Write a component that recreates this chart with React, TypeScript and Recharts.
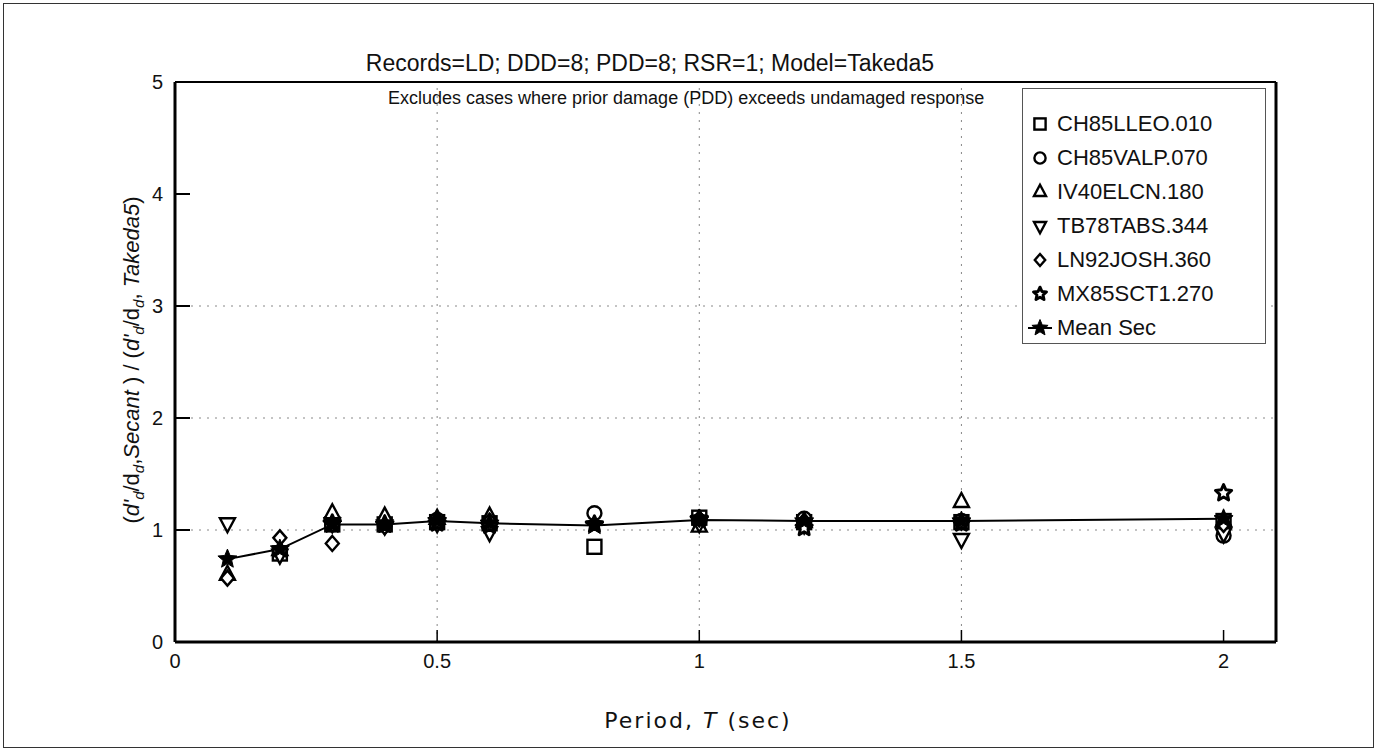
import React from 'react'
import {
  ComposedChart,
  Scatter,
  Line,
  XAxis,
  YAxis,
  ReferenceLine,
  Label,
} from 'recharts'

// periods (sec)
const periods = [0.1, 0.2, 0.3, 0.4, 0.5, 0.6, 0.8, 1.0, 1.2, 1.5, 2.0]

// ratio values per record, null = excluded case
const ch85lleo = [null, 0.79, 1.05, 1.05, 1.07, 1.06, 0.85, 1.11, 1.07, 1.07, 1.08]
const ch85valp = [null, null, 1.05, 1.06, 1.09, 1.07, 1.15, 1.08, 1.1, 1.08, 0.95]
const iv40elcn = [0.6, 0.82, 1.15, 1.12, 1.1, 1.12, null, 1.03, 1.07, 1.25, 1.08]
const tb78tabs = [1.06, 0.78, 1.06, 1.04, 1.06, 0.98, null, 1.06, 1.05, 0.92, 0.97]
const ln92josh = [0.57, 0.93, 0.88, 1.03, 1.08, 1.08, null, 1.1, 1.08, 1.07, 1.05]
const mx85sct1 = [null, null, 1.06, 1.05, 1.06, 1.04, 1.05, 1.1, 1.02, 1.06, 1.33]
const meanSec = [0.74, 0.83, 1.05, 1.05, 1.08, 1.06, 1.04, 1.09, 1.08, 1.08, 1.1]

const xTicks = [0, 0.5, 1, 1.5, 2]
const yTicks = [0, 1, 2, 3, 4, 5]
const xGrid = [0.5, 1, 1.5]
const yGrid = [1, 2, 3]

const FONT = '"Liberation Sans", Arial, Helvetica, sans-serif'
const WIDE = '"DejaVu Sans", Verdana, sans-serif'

const toPoints = (vals: (number | null)[]) =>
  periods
    .map((T, i) => ({ T, v: vals[i] }))
    .filter((d) => d.v !== null)

type Kind = 'square' | 'circle' | 'triUp' | 'triDown' | 'diamond' | 'star' | 'starFilled'

const starPath = (cx: number, cy: number, ro: number, ri: number) => {
  let d = ''
  for (let i = 0; i < 10; i++) {
    const r = i % 2 === 0 ? ro : ri
    const a = -Math.PI / 2 + (i * Math.PI) / 5
    d += `${i === 0 ? 'M' : 'L'}${cx + r * Math.cos(a)},${cy + r * Math.sin(a)}`
  }
  return d + 'Z'
}

const Marker = ({ cx, cy, kind, s = 1 }: { cx: number; cy: number; kind: Kind; s?: number }) => {
  const st = { stroke: '#000', strokeWidth: 2.4, fill: '#fff' }
  if (cx == null || cy == null) return null
  switch (kind) {
    case 'square':
      return <rect x={cx - 7 * s} y={cy - 7 * s} width={14 * s} height={14 * s} {...st} />
    case 'circle':
      return <circle cx={cx} cy={cy} r={7 * s} {...st} />
    case 'triUp':
      return <polygon points={`${cx},${cy - 9 * s} ${cx + 7.5 * s},${cy + 5 * s} ${cx - 7.5 * s},${cy + 5 * s}`} {...st} />
    case 'triDown':
      return <polygon points={`${cx},${cy + 9 * s} ${cx + 7.5 * s},${cy - 5 * s} ${cx - 7.5 * s},${cy - 5 * s}`} {...st} />
    case 'diamond':
      return <polygon points={`${cx},${cy - 7.5 * s} ${cx + 6.5 * s},${cy} ${cx},${cy + 7.5 * s} ${cx - 6.5 * s},${cy}`} {...st} />
    case 'star':
      return <path d={starPath(cx, cy, 8.5 * s, 4 * s)} stroke="#000" strokeWidth={3} strokeLinejoin="round" fill="#fff" />
    case 'starFilled':
      return <path d={starPath(cx, cy, 10 * s, 4.5 * s)} stroke="#000" strokeWidth={1} fill="#000" />
  }
  return null
}

const records: { name: string; kind: Kind; vals: (number | null)[] }[] = [
  { name: 'CH85LLEO.010', kind: 'square', vals: ch85lleo },
  { name: 'CH85VALP.070', kind: 'circle', vals: ch85valp },
  { name: 'IV40ELCN.180', kind: 'triUp', vals: iv40elcn },
  { name: 'TB78TABS.344', kind: 'triDown', vals: tb78tabs },
  { name: 'LN92JOSH.360', kind: 'diamond', vals: ln92josh },
  { name: 'MX85SCT1.270', kind: 'star', vals: mx85sct1 },
]

const YTick = (props: any) => {
  const { x, y, payload } = props
  return (
    <g>
      <text x={x} y={y} dy={7} textAnchor="end" fontSize={20} fontFamily={FONT} fill="#111">
        {payload.value}
      </text>
      {payload.value > 0 && payload.value < 5 && (
        <line x1={x + 12} x2={x + 27} y1={y} y2={y} stroke="#000" strokeWidth={2} />
      )}
    </g>
  )
}

const XTick = (props: any) => {
  const { x, y, payload } = props
  return (
    <g>
      <text x={x} y={y} dy={16} textAnchor="middle" fontSize={20} fontFamily={FONT} fill="#111">
        {payload.value}
      </text>
      {payload.value > 0 && (
        <line x1={x} x2={x} y1={y - 10} y2={y - 22} stroke="#000" strokeWidth={1.5} />
      )}
    </g>
  )
}

const XLabel = (props: any) => {
  const vb = props.viewBox
  return (
    <text
      x={vb.x + 523}
      y={vb.y + 86}
      textAnchor="middle"
      fontSize={22}
      letterSpacing={2}
      fontFamily={WIDE}
      fill="#111"
    >
      Period, <tspan fontStyle="italic">T</tspan> (sec)
    </text>
  )
}

const YLabel = (props: any) => {
  const vb = props.viewBox
  const cx = vb.x + 44
  const cy = 360
  const sub = { fontSize: 15, dy: 5 }
  return (
    <text
      x={cx}
      y={cy}
      transform={`rotate(-90 ${cx} ${cy})`}
      textAnchor="middle"
      fontSize={22}
      fontFamily={FONT}
      fill="#111"
    >
      <tspan>(</tspan>
      <tspan fontStyle="italic">d'</tspan>
      <tspan fontStyle="italic" {...sub}>d</tspan>
      <tspan dy={-5}>/d</tspan>
      <tspan fontStyle="italic" {...sub}>d</tspan>
      <tspan dy={-5}>,</tspan>
      <tspan fontStyle="italic">Secant</tspan>
      <tspan> ) / (</tspan>
      <tspan fontStyle="italic">d'</tspan>
      <tspan fontStyle="italic" {...sub}>d</tspan>
      <tspan dy={-5}>/d</tspan>
      <tspan fontStyle="italic" {...sub}>d</tspan>
      <tspan dy={-5}>, </tspan>
      <tspan fontStyle="italic">Takeda5</tspan>
      <tspan>)</tspan>
    </text>
  )
}

const LegendBox = () => (
  <div
    style={{
      position: 'absolute',
      left: 1022,
      top: 88,
      width: 244,
      height: 256,
      boxSizing: 'border-box',
      paddingTop: 18,
      border: '1px solid #555',
      background: '#fff',
      fontFamily: FONT,
      fontSize: 22,
      color: '#111',
    }}
  >
    {records.map((r) => (
      <div key={r.name} style={{ display: 'flex', alignItems: 'center', height: 34 }}>
        <svg width={30} height={24} style={{ marginLeft: 2 }}>
          <Marker cx={15} cy={12} kind={r.kind} s={0.8} />
        </svg>
        <span style={{ marginLeft: 2 }}>{r.name}</span>
      </div>
    ))}
    <div style={{ display: 'flex', alignItems: 'center', height: 34 }}>
      <svg width={30} height={24} style={{ marginLeft: 2 }}>
        <line x1={3} x2={27} y1={12} y2={12} stroke="#000" strokeWidth={2} />
        <Marker cx={15} cy={12} kind="starFilled" s={0.85} />
      </svg>
      <span style={{ marginLeft: 2 }}>Mean Sec</span>
    </div>
  </div>
)

export default function App() {
  return (
    <div style={{ position: 'absolute', left: 0, top: 0, width: 1377, height: 751, background: '#fff' }}>
      <div
        style={{
          position: 'absolute',
          left: 3,
          top: 3,
          width: 1369,
          height: 743,
          border: '1px solid #333',
        }}
      />
      <ComposedChart
        width={1377}
        height={751}
        margin={{ top: 82, right: 101, bottom: 19, left: 95 }}
        style={{ position: 'absolute', left: 0, top: 0 }}
      >
        {yGrid.map((v) => (
          <ReferenceLine key={`gy${v}`} y={v} stroke="#888" strokeDasharray="2 6" />
        ))}
        {xGrid.map((v) => (
          <ReferenceLine key={`gx${v}`} x={v} stroke="#888" strokeDasharray="2 6" />
        ))}
        <XAxis
          type="number"
          dataKey="T"
          domain={[0, 2.1]}
          ticks={xTicks}
          allowDataOverflow
          height={90}
          tickSize={0}
          tickMargin={10}
          tick={<XTick />}
          axisLine={{ stroke: '#000', strokeWidth: 3 }}
          tickLine={false}
        >
          <Label content={<XLabel />} />
        </XAxis>
        <YAxis
          type="number"
          dataKey="v"
          domain={[0, 5]}
          ticks={yTicks}
          width={80}
          tickSize={0}
          tickMargin={12}
          tick={<YTick />}
          axisLine={{ stroke: '#000', strokeWidth: 3 }}
          tickLine={false}
        >
          <Label content={<YLabel />} />
        </YAxis>
        <ReferenceLine y={5} stroke="#000" strokeWidth={2} />
        <ReferenceLine x={2.1} stroke="#000" strokeWidth={3} />
        {records.map((r) => (
          <Scatter
            key={r.name}
            name={r.name}
            data={toPoints(r.vals)}
            dataKey="v"
            isAnimationActive={false}
            shape={(p: any) => <Marker cx={p.cx} cy={p.cy} kind={r.kind} />}
          />
        ))}
        <Line
          name="Mean Sec"
          data={toPoints(meanSec)}
          dataKey="v"
          stroke="#000"
          strokeWidth={2}
          isAnimationActive={false}
          dot={(p: any) => <Marker key={`m${p.index}`} cx={p.cx} cy={p.cy} kind="starFilled" />}
          activeDot={false}
        />
      </ComposedChart>
      <div
        style={{
          position: 'absolute',
          left: 0,
          width: 1300,
          top: 50,
          textAlign: 'center',
          fontFamily: FONT,
          fontSize: 23,
          color: '#111',
        }}
      >
        Records=LD; DDD=8; PDD=8; RSR=1; Model=Takeda5
      </div>
      <div
        style={{
          position: 'absolute',
          left: 388,
          top: 88,
          fontFamily: FONT,
          fontSize: 18,
          color: '#111',
          whiteSpace: 'nowrap',
        }}
      >
        Excludes cases where prior damage (PDD) exceeds undamaged response
      </div>
      <LegendBox />
    </div>
  )
}
